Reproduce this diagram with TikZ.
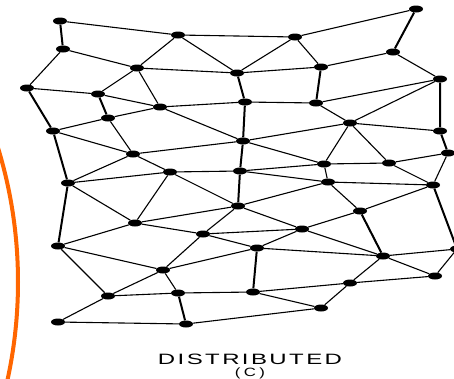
\documentclass[tikz,border=0pt]{standalone}
\usepackage{fontspec,graphicx}
\setsansfont{Liberation Sans}
\usetikzlibrary{shapes.geometric}
\definecolor{netO}{RGB}{255,102,0}
\tikzset{host/.style={ellipse,fill=black,inner sep=0pt,minimum width=14pt,minimum height=7pt},
  link/.style={line width=1.1pt},
  trunk/.style={line width=2pt}}

\begin{document}
\begin{tikzpicture}[x=1pt,y=-1pt]
\useasboundingbox (0,0) rectangle (454,378);
\clip (0,0) rectangle (454,378);
% stations, row by row
\node[host] (p1) at (60,21) {}; \node[host] (p2) at (178,35) {}; \node[host] (p3) at (295,37) {}; \node[host] (p4) at (416,9) {};
\node[host] (q1) at (63,49) {}; \node[host] (q2) at (137,68) {}; \node[host] (q3) at (237,73) {}; \node[host] (q4) at (321,67) {};
\node[host] (q5) at (393,52) {}; \node[host] (q6) at (440,79) {};
\node[host] (r1) at (27,88) {}; \node[host] (r2) at (98,94) {}; \node[host] (r3) at (160,107) {}; \node[host] (r4) at (108,118) {};
\node[host] (r5) at (245,102) {}; \node[host] (r6) at (316,103) {}; \node[host] (r7) at (350,123) {}; \node[host] (r8) at (440,131) {};
\node[host] (s1) at (53,131) {}; \node[host] (s2) at (133,154) {}; \node[host] (s3) at (243,141) {}; \node[host] (s4) at (448,153) {};
\node[host] (s5) at (324,164) {}; \node[host] (s6) at (389,163) {};
\node[host] (t1) at (68,183) {}; \node[host] (t2) at (170,172) {}; \node[host] (t3) at (240,171) {}; \node[host] (t4) at (328,182) {};
\node[host] (t5) at (433,185) {};
\node[host] (u1) at (135,223) {}; \node[host] (u2) at (238,206) {}; \node[host] (u3) at (203,234) {}; \node[host] (u4) at (302,229) {};
\node[host] (u5) at (360,211) {}; \node[host] (u6) at (58,246) {}; \node[host] (u7) at (257,248) {}; \node[host] (u8) at (383,256) {};
\node[host] (u9) at (457,249) {};
\node[host] (v1) at (163,270) {}; \node[host] (v2) at (108,296) {}; \node[host] (v3) at (178,293) {}; \node[host] (v4) at (253,292) {};
\node[host] (v5) at (350,283) {}; \node[host] (v6) at (435,276) {};
\node[host] (w1) at (58,322) {}; \node[host] (w2) at (186,324) {}; \node[host] (w3) at (321,308) {};
% links
\draw[link] (p1)--(p2) (p2)--(q2) (p2)--(q3) (p2)--(p3) (p3)--(q3) (p3)--(q4) (p3)--(p4);
\draw[link] (q1)--(q2) (q1)--(r1) (q2)--(r2) (q2)--(q3) (q2)--(r3) (q3)--(q4) (q4)--(q5) (q5)--(q6);
\draw[link] (q6)--(r6) (q6)--(r7) (r1)--(r2) (r2)--(r3) (r3)--(r4) (r3)--(r5) (r3)--(s3);
\draw[link] (r4)--(s1) (r4)--(s2) (r5)--(r6) (r6)--(r7) (r7)--(s3) (r7)--(r8) (r7)--(s5) (r7)--(s6);
\draw[link] (s1)--(s2) (s2)--(t2) (s2)--(s3) (s2)--(t1) (s3)--(s5) (s4)--(s6) (s4)--(t5);
\draw[link] (s5)--(s6) (s5)--(t4) (s5)--(t3) (s6)--(t5) (t1)--(t2) (t1)--(u1) (t2)--(t3) (t2)--(u1) (t2)--(u2);
\draw[link] (t3)--(t4) (t4)--(t5) (t4)--(u5) (t4)--(u2) (t5)--(u5) (u1)--(u2) (u1)--(u3) (u1)--(u6);
\draw[link] (u2)--(u3) (u2)--(u4) (u3)--(u4) (u3)--(u7) (u3)--(v1) (u4)--(u5) (u4)--(u7) (u4)--(u8) (u5)--(u8);
\draw[link] (u6)--(v1) (u6)--(v2) (u7)--(u8) (u7)--(v1) (u8)--(v5) (u8)--(v6) (u8)--(u9);
\draw[link] (v1)--(v2) (v1)--(v3) (v2)--(v3) (v2)--(w1) (v3)--(v4) (v4)--(v5) (v4)--(w3);
\draw[link] (v5)--(v6) (v5)--(w3) (v6)--(u9) (w1)--(w2) (w2)--(w3);
% heavier, near vertical links
\draw[trunk] (p1)--(q1) (p4)--(q5) (q3)--(r5) (q4)--(r6) (q6)--(r8) (r1)--(s1) (r2)--(r4) (r5)--(s3) (r8)--(s4);
\draw[trunk] (s1)--(t1) (s3)--(t3) (t1)--(u6) (t3)--(u2) (t5)--(u9) (u5)--(u8) (u7)--(v4) (v3)--(w2);
% orange rim at the left
\draw[netO,line width=4pt] (-439,282) circle[radius=457pt];
\node[font=\sffamily\fontsize{15}{12}\selectfont,align=center,anchor=north,inner sep=0pt] (cap) at (250,353.5)
  {\scalebox{1.6}[1]{\addfontfeatures{LetterSpace=10}DISTRIBUTED}\\
   \fontsize{12}{12}\selectfont\scalebox{1.4}[1]{\addfontfeatures{LetterSpace=20}(C)}};
\end{tikzpicture}
\end{document}
